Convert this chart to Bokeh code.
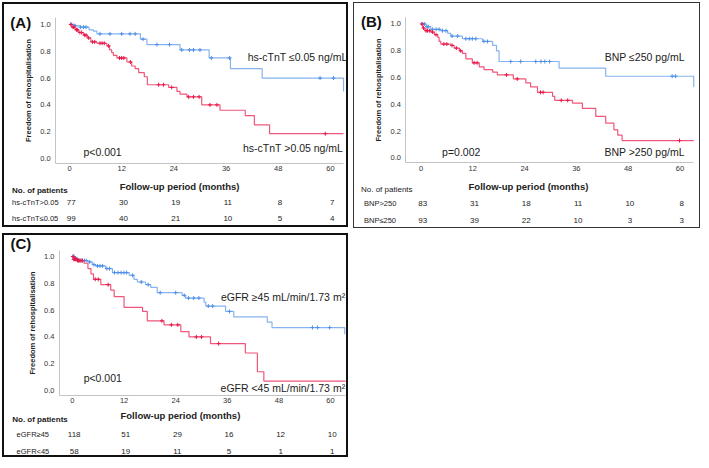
import numpy as np
from bokeh.plotting import figure
from bokeh.models import Range1d, Label, FixedTicker, NumeralTickFormatter
from bokeh.layouts import row, column
from bokeh.embed import file_html
from bokeh.resources import INLINE

FONT = "Liberation Sans"
BLUE_LINE = "#86b4ee"
BLUE_MARK = "#4f8fe6"
RED_LINE = "#f0577a"
RED_MARK = "#e5194a"

TICKS_X = [0, 12, 24, 36, 48, 60]
TICKS_Y = [0.0, 0.2, 0.4, 0.6, 0.8, 1.0]

# ---------------- Panel A : hs-cTnT ----------------
a_low_t = [0, 1.2, 2.5, 4.5, 5.5, 6.3, 16.3, 17.8, 25.4, 32.1, 37.0, 44.3, 63.0]
a_low_s = [1.0, 0.99, 0.98, 0.96, 0.95, 0.93, 0.89, 0.85, 0.81, 0.75, 0.67, 0.60, 0.50]
a_low_c = [0.5, 1.3, 2.5, 3.2, 3.8, 7.0, 9.3, 12.0, 13.9, 15.1, 16.9, 20.1, 23.0, 25.8,
           27.6, 28.5, 30.0, 32.6, 36.8, 57.6, 60.7]
a_high_t = [0, 0.5, 1.3, 2.1, 3.2, 4.1, 4.9, 6.3, 8.6, 9.2, 9.7, 10.1, 10.9, 13.2, 14.3,
            15.1, 15.9, 17.2, 17.9, 22.8, 24.7, 25.4, 27.0, 30.4, 34.6, 40.4, 42.5, 46.0, 63.0]
a_high_s = [1.0, 0.98, 0.96, 0.94, 0.92, 0.90, 0.87, 0.86, 0.84, 0.81, 0.79, 0.77, 0.75, 0.72,
            0.69, 0.67, 0.64, 0.61, 0.55, 0.53, 0.50, 0.48, 0.46, 0.40, 0.36, 0.32, 0.25, 0.185, 0.185]
a_high_c = [0.3, 0.8, 1.0, 1.6, 1.8, 2.4, 2.8, 3.5, 3.8, 4.4, 5.3, 5.8, 7.0, 7.5, 8.0, 9.0,
            11.5, 12.0, 12.5, 14.0, 20.5, 21.6, 23.5, 27.4, 28.5, 29.8, 32.3, 33.9, 58.8]
a_rows = ["hs-cTnT>0.05", "hs-cTnT≤0.05"]
a_n_high = [77, 30, 19, 11, 8, 7]
a_n_low = [99, 40, 21, 10, 5, 4]

# ---------------- Panel B : BNP ----------------
b_low_t = [0, 1.2, 2.3, 4.6, 6.2, 6.9, 9.6, 14.3, 16.6, 17.5, 18.1, 32.0, 42.8, 63.2]
b_low_s = [1.0, 0.98, 0.96, 0.95, 0.93, 0.91, 0.89, 0.87, 0.84, 0.80, 0.72, 0.67, 0.61, 0.53]
b_low_c = [0.4, 0.8, 1.4, 1.7, 2.7, 3.5, 4.2, 5.0, 5.8, 7.2, 8.5, 10.4, 11.2, 11.9, 12.7,
           14.6, 15.4, 20.8, 23.1, 26.6, 27.8, 28.7, 29.8, 58.2, 59.0]
b_high_t = [0, 0.4, 0.9, 2.3, 3.1, 3.9, 4.2, 4.6, 6.9, 7.7, 8.9, 9.6, 10.4, 11.9, 13.5, 14.6,
            16.6, 17.7, 21.4, 24.3, 25.4, 27.0, 30.5, 31.0, 35.1, 37.4, 40.5, 42.8, 44.7, 45.6, 46.6, 63.2]
b_high_s = [1.0, 0.97, 0.95, 0.94, 0.92, 0.90, 0.87, 0.85, 0.84, 0.82, 0.80, 0.78, 0.74, 0.71,
            0.68, 0.66, 0.64, 0.62, 0.59, 0.56, 0.53, 0.49, 0.46, 0.43, 0.41, 0.37, 0.31, 0.26,
            0.21, 0.17, 0.13, 0.13]
b_high_c = [0.2, 0.6, 1.2, 1.5, 2.0, 2.7, 3.5, 5.3, 6.0, 7.2, 8.2, 9.2, 12.3, 13.0, 19.8,
            22.3, 27.7, 28.3, 32.5, 34.0, 59.9]
b_rows = ["BNP>250", "BNP≤250"]
b_n_high = [83, 31, 18, 11, 10, 8]
b_n_low = [93, 39, 22, 10, 3, 3]

# ---------------- Panel C : eGFR ----------------
c_high_t = [0, 0.5, 1.5, 3.6, 4.6, 5.4, 7.7, 9.3, 13.2, 14.3, 15.1, 17.0, 18.2, 19.7, 25.5,
            26.3, 30.6, 31.0, 35.6, 37.5, 45.3, 46.4, 63.3]
c_high_s = [1.0, 0.98, 0.97, 0.96, 0.94, 0.93, 0.91, 0.88, 0.86, 0.83, 0.81, 0.79, 0.77, 0.73,
            0.71, 0.69, 0.66, 0.63, 0.59, 0.55, 0.51, 0.47, 0.42]
c_high_c = [0.2, 0.4, 0.8, 1.1, 1.8, 2.3, 2.8, 3.2, 4.0, 5.0, 5.8, 6.4, 7.0, 8.0, 8.6, 9.8,
            10.6, 11.3, 12.0, 12.6, 14.0, 16.0, 17.6, 20.4, 24.0, 26.0, 27.0, 28.2, 29.4,
            31.6, 32.6, 36.5, 55.8, 57.0, 59.8]
c_low_t = [0, 0.2, 1.0, 2.7, 3.6, 4.3, 4.9, 6.6, 8.9, 9.7, 12.0, 16.3, 17.4, 21.3, 25.2,
           27.1, 32.1, 40.2, 43.0, 44.5, 63.5]
c_low_s = [1.0, 0.98, 0.97, 0.95, 0.91, 0.87, 0.83, 0.79, 0.75, 0.70, 0.62, 0.59, 0.52, 0.49,
           0.44, 0.40, 0.35, 0.28, 0.14, 0.07, 0.07]
c_low_c = [0.1, 0.3, 0.5, 0.7, 0.9, 1.2, 1.4, 1.7, 2.0, 2.3, 5.3, 6.0, 8.3, 20.8, 23.0,
           24.5, 28.8, 30.0, 34.0]
c_rows = ["eGFR≥45", "eGFR<45"]
c_n_high = [118, 51, 29, 16, 12, 10]
c_n_low = [58, 19, 11, 5, 1, 1]


def at(t, s, c):
    idx = np.searchsorted(np.array(t), np.array(c), side="right") - 1
    return list(np.array(s)[idx])


def curve(p, t, s, c, line, mark):
    p.step(x=t, y=s, mode="after", line_color=line, line_width=1.2)
    p.scatter(x=c, y=at(t, s, c), marker="cross", size=4, line_color=mark, line_width=1)


def lab(p, x, y, text, size="8px", align="left", style="normal", color="#222222"):
    p.add_layout(Label(x=x, y=y, text=text, text_font=FONT, text_font_size=size,
                       text_align=align, text_baseline="middle", text_font_style=style,
                       text_color=color))


def panel(width, height, xr, yr, xaxis_span, yaxis_top, border):
    # the frame fills the whole bordered box; axes are pinned at fixed data locations
    p = figure(width=width, height=height, x_range=Range1d(*xr), y_range=Range1d(*yr),
               output_backend="svg", toolbar_location=None, title=None, min_border=0)
    p.styles = {"border": border}
    y0 = -0.037
    p.xaxis.fixed_location = y0
    p.yaxis.fixed_location = xaxis_span[0]
    p.xaxis.bounds = (xaxis_span[0], xaxis_span[1])
    p.yaxis.bounds = (y0, yaxis_top)
    p.xaxis.ticker = FixedTicker(ticks=TICKS_X)
    p.yaxis.ticker = FixedTicker(ticks=TICKS_Y)
    p.yaxis.formatter = NumeralTickFormatter(format="0.0")
    p.axis.axis_line_color = "#c4c4c4"
    p.axis.major_tick_line_color = None
    p.axis.minor_tick_line_color = None
    p.axis.major_tick_out = 0
    p.axis.major_tick_in = 0
    p.axis.major_label_text_font = FONT
    p.axis.major_label_text_font_size = "7.5px"
    p.axis.major_label_text_color = "#333333"
    p.xaxis.major_label_standoff = 3
    p.yaxis.major_label_standoff = 5
    p.yaxis.axis_label = "Freedom of rehospitalisation"
    p.yaxis.axis_label_text_font = FONT
    p.yaxis.axis_label_text_font_size = "7.5px"
    p.yaxis.axis_label_text_font_style = "bold"
    p.yaxis.axis_label_text_color = "#222222"
    p.yaxis.axis_label_standoff = 4
    p.xgrid.visible = False
    p.ygrid.visible = False
    p.outline_line_color = None
    p.background_fill_color = "white"
    return p


def table(p, rows, n1, n2, ys, xhead, xrow, bold_head=True):
    lab(p, xhead, ys[0], "No. of patients", size="8px", style="bold" if bold_head else "normal")
    lab(p, xrow, ys[1], rows[0], size="7.5px")
    lab(p, xrow, ys[2], rows[1], size="7.5px")
    for tx, v1, v2 in zip(TICKS_X, n1, n2):
        lab(p, tx + 0.4, ys[1], str(v1), size="8px", align="center")
        lab(p, tx + 0.4, ys[2], str(v2), size="8px", align="center")


# Panel A
pA = panel(346, 225, (-14.94, 64.6), (-0.530, 1.149), (-3.2, 63.0), 1.052, "2px solid #111111")
curve(pA, a_low_t, a_low_s, a_low_c, BLUE_LINE, BLUE_MARK)
curve(pA, a_high_t, a_high_s, a_high_c, RED_LINE, RED_MARK)
lab(pA, -13.6, 1.015, "(A)", size="15px", style="bold", color="#111111")
lab(pA, 63.9, 0.755, "hs-cTnT ≤0.05 ng/mL", size="10.5px", align="right")
lab(pA, 62.9, 0.08, "hs-cTnT >0.05 ng/mL", size="10.5px", align="right")
lab(pA, 3.2, 0.045, "p<0.001", size="10.5px")
lab(pA, 25.3, -0.209, "Follow-up period (months)", size="9.5px", align="center", style="bold")
table(pA, a_rows, a_n_high, a_n_low, [-0.239, -0.328, -0.448], -13.2, -13.2)

# Panel B
pB = panel(347, 226, (-15.4, 65.0), (-0.534, 1.153), (-3.47, 63.2), 1.052, "1.5px solid #333333")
curve(pB, b_low_t, b_low_s, b_low_c, BLUE_LINE, BLUE_MARK)
curve(pB, b_high_t, b_high_s, b_high_c, RED_LINE, RED_MARK)
lab(pB, -13.9, 1.015, "(B)", size="15px", style="bold", color="#111111")
lab(pB, 61.1, 0.75, "BNP ≤250 pg/mL", size="10.5px", align="right")
lab(pB, 61.1, 0.045, "BNP >250 pg/mL", size="10.5px", align="right")
lab(pB, 4.9, 0.045, "p=0.002", size="10.5px")
lab(pB, 24.9, -0.216, "Follow-up period (months)", size="9.5px", align="center", style="bold")
table(pB, b_rows, b_n_high, b_n_low, [-0.239, -0.343, -0.47], -13.9, -13.2, bold_head=False)

# Panel C
pC = panel(346, 224, (-15.8, 64.65), (-0.515, 1.157), (-3.02, 63.5), 1.045, "2px solid #111111")
curve(pC, c_high_t, c_high_s, c_high_c, BLUE_LINE, BLUE_MARK)
curve(pC, c_low_t, c_low_s, c_low_c, RED_LINE, RED_MARK)
lab(pC, -14.4, 1.097, "(C)", size="15px", style="bold", color="#111111")
lab(pC, 63.4, 0.70, "eGFR ≥45 mL/min/1.73 m²", size="10.5px", align="right")
lab(pC, 63.4, 0.015, "eGFR <45 mL/min/1.73 m²", size="10.5px", align="right")
lab(pC, 2.6, 0.09, "p<0.001", size="10.5px")
lab(pC, 25.1, -0.187, "Follow-up period (months)", size="9.5px", align="center", style="bold")
table(pC, c_rows, c_n_high, c_n_low, [-0.216, -0.328, -0.455], -14.0, -13.0)

layout = column(row(pA, pB, spacing=5), pC, spacing=5,
                styles={"margin-left": "2px", "margin-top": "2px"})
open("out.html", "w").write(file_html(layout, INLINE))
